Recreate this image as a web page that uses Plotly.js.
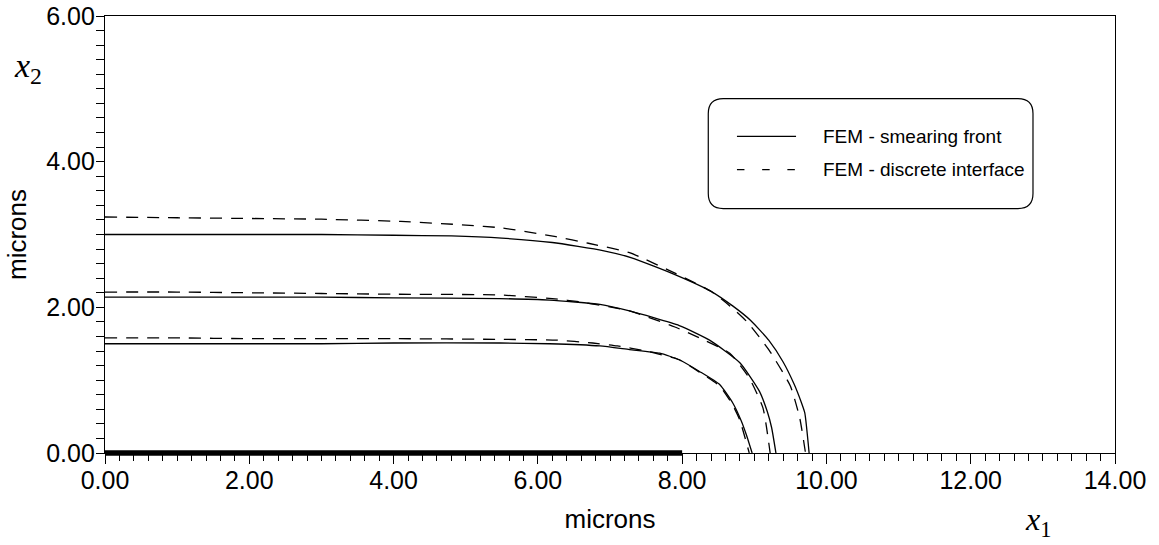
<!DOCTYPE html>
<html>
<head>
<meta charset="utf-8">
<script src="https://cdn.plot.ly/plotly-3.0.1.min.js"></script>
<style>
  html, body { margin: 0; padding: 0; background: #ffffff; }
  #chart { width: 1159px; height: 545px; }
</style>
</head>
<body>
<div id="chart"></div>
<script>
// ---- data (x1, x2 in microns) ----
const seriesNames = ["FEM - smearing front", "FEM - discrete interface"];

// smearing front (solid) – three fronts
const smear1X = [0, 1, 2, 3, 4, 4.8, 5.5, 6.2, 6.9, 7.3, 7.9, 8.4, 8.7, 8.95, 9.2, 9.4, 9.55, 9.65, 9.7, 9.76];
const smear1Y = [3.00, 3.00, 3.00, 3.00, 2.99, 2.98, 2.95, 2.89, 2.78, 2.68, 2.45, 2.22, 2.02, 1.82, 1.55, 1.25, 0.95, 0.70, 0.55, 0];
const smear2X = [0, 1, 2, 3, 4, 5.47, 6.16, 6.86, 7.27, 7.96, 8.38, 8.8, 9.07, 9.18, 9.24, 9.30];
const smear2Y = [2.14, 2.14, 2.14, 2.14, 2.13, 2.12, 2.10, 2.04, 1.95, 1.75, 1.55, 1.24, 0.85, 0.57, 0.35, 0];
const smear3X = [0, 1, 2, 3, 4, 5.47, 6.16, 6.86, 7.27, 7.69, 7.96, 8.24, 8.52, 8.70, 8.82, 8.89, 8.97];
const smear3Y = [1.50, 1.50, 1.50, 1.50, 1.51, 1.51, 1.50, 1.47, 1.42, 1.37, 1.28, 1.12, 0.94, 0.69, 0.44, 0.25, 0];

// discrete interface (dashed) – three fronts
const disc1X = [0, 1, 2, 3, 4.1, 5.0, 5.5, 6.25, 6.7, 7.27, 7.9, 8.4, 8.66, 8.9, 9.2, 9.5, 9.63, 9.71];
const disc1Y = [3.24, 3.23, 3.22, 3.21, 3.18, 3.13, 3.09, 2.97, 2.88, 2.75, 2.47, 2.22, 2.02, 1.80, 1.42, 0.92, 0.48, 0];
const disc2X = [0, 1, 2, 3, 4, 5.47, 6.2, 6.62, 7.27, 7.9, 8.24, 8.66, 8.93, 9.12, 9.22];
const disc2Y = [2.21, 2.21, 2.20, 2.19, 2.18, 2.17, 2.12, 2.07, 1.95, 1.73, 1.58, 1.37, 1.03, 0.62, 0];
const disc3X = [0, 1, 2, 3, 4, 5.47, 6.26, 6.76, 7.1, 7.5, 7.96, 8.24, 8.52, 8.70, 8.80, 8.93];
const disc3Y = [1.58, 1.58, 1.57, 1.57, 1.57, 1.56, 1.55, 1.51, 1.47, 1.40, 1.28, 1.11, 0.92, 0.66, 0.45, 0];

// loaded segment on the surface x2 = 0 (x1 from 0 to 8)
const padX = [0, 8];

// ---- styling ----
const FONT = "Liberation Sans, Arial, sans-serif";
const SERIF = "Liberation Serif, Times New Roman, serif";
const solid = { color: "#000", width: 1.3, dash: "solid", shape: "spline", smoothing: 0.5 };
const dashed = { color: "#000", width: 1.3, dash: "12px,9px", shape: "spline", smoothing: 0.5 };

function tr(x, y, line, name) {
  return { x: x, y: y, type: "scatter", mode: "lines", line: line, name: name,
           showlegend: false, cliponaxis: false, hoverinfo: "skip" };
}

const traces = [
  tr(smear1X, smear1Y, solid, seriesNames[0]),
  tr(smear2X, smear2Y, solid, seriesNames[0]),
  tr(smear3X, smear3Y, solid, seriesNames[0]),
  tr(disc1X, disc1Y, dashed, seriesNames[1]),
  tr(disc2X, disc2Y, dashed, seriesNames[1]),
  tr(disc3X, disc3Y, dashed, seriesNames[1])
];

// legend box (paper coords)
const bx0 = 0.5973, bx1 = 0.9188, by0 = 0.5593, by1 = 0.8110;
const rx = 15 / 1010, ry = 15 / 437;
const boxPath =
  `M ${bx0 + rx},${by1} L ${bx1 - rx},${by1} Q ${bx1},${by1} ${bx1},${by1 - ry} ` +
  `L ${bx1},${by0 + ry} Q ${bx1},${by0} ${bx1 - rx},${by0} ` +
  `L ${bx0 + rx},${by0} Q ${bx0},${by0} ${bx0},${by0 + ry} ` +
  `L ${bx0},${by1 - ry} Q ${bx0},${by1} ${bx0 + rx},${by1} Z`;

const row1 = 0.7247, row2 = 0.6485;
const lx0 = 0.6257, lx1 = 0.6842, tx = 0.7089;

const layout = {
  width: 1159, height: 545,
  paper_bgcolor: "#fff", plot_bgcolor: "#fff",
  margin: { l: 105, r: 44, t: 16, b: 92, pad: 0 },
  showlegend: false,
  hovermode: false,
  font: { family: FONT, color: "#000", size: 24 },
  xaxis: {
    range: [0, 14], dtick: 2, tick0: 0, tickformat: ".2f",
    ticks: "outside", ticklen: 10, tickwidth: 1, tickcolor: "#000",
    ticklabelstandoff: -5,
    minor: { dtick: 0.2, ticks: "outside", ticklen: 7, tickwidth: 1, tickcolor: "#000", showgrid: false },
    showline: true, linecolor: "#000", linewidth: 1.2, mirror: true,
    showgrid: false, zeroline: false,
    tickfont: { family: FONT, size: 25, color: "#000" },
    title: { text: "microns", font: { family: FONT, size: 26, color: "#000" }, standoff: 16 }
  },
  yaxis: {
    range: [0, 6], dtick: 2, tick0: 0, tickformat: ".2f",
    ticks: "outside", ticklen: 8, tickwidth: 1, tickcolor: "#000",
    ticklabelstandoff: -4,
    minor: { dtick: 0.2, ticks: "outside", ticklen: 8, tickwidth: 1, tickcolor: "#000", showgrid: false },
    showline: true, linecolor: "#000", linewidth: 1.2, mirror: true,
    showgrid: false, zeroline: false,
    tickfont: { family: FONT, size: 25, color: "#000" },
    title: { text: "microns", font: { family: FONT, size: 26, color: "#000" }, standoff: 12 }
  },
  shapes: [
    // thick loaded segment along x2 = 0, positioned on the x scale
    { type: "line", xref: "x", yref: "paper", x0: padX[0], x1: padX[1], y0: 0, y1: 0,
      line: { color: "#000", width: 5.5 }, layer: "above" },
    { type: "path", xref: "paper", yref: "paper", path: boxPath,
      line: { color: "#000", width: 1.2 }, fillcolor: "rgba(255,255,255,0)" },
    { type: "line", xref: "paper", yref: "paper", x0: lx0, x1: lx1, y0: row1, y1: row1,
      line: { color: "#000", width: 1.3 } },
    { type: "line", xref: "paper", yref: "paper", x0: lx0, x1: lx1, y0: row2, y1: row2,
      line: { color: "#000", width: 1.3, dash: "7.5px,17.7px" } }
  ],
  annotations: [
    { xref: "paper", yref: "paper", x: tx, y: row1, xanchor: "left", yanchor: "middle",
      text: seriesNames[0], showarrow: false, font: { family: FONT, size: 19, color: "#000" } },
    { xref: "paper", yref: "paper", x: tx, y: row2, xanchor: "left", yanchor: "middle",
      text: seriesNames[1], showarrow: false, font: { family: FONT, size: 19, color: "#000" } },
    { xref: "paper", yref: "paper", x: -0.0921, y: 0.8803, xanchor: "left", yanchor: "middle",
      text: "<i>x</i><sub>2</sub>", showarrow: false, font: { family: SERIF, size: 34, color: "#000" } },
    { xref: "paper", yref: "paper", x: 0.909, y: -0.156, xanchor: "left", yanchor: "middle",
      text: "<i>x</i><sub>1</sub>", showarrow: false, font: { family: SERIF, size: 32, color: "#000" } }
  ]
};

Plotly.newPlot("chart", traces, layout, { displayModeBar: false, staticPlot: true });
</script>
</body>
</html>
